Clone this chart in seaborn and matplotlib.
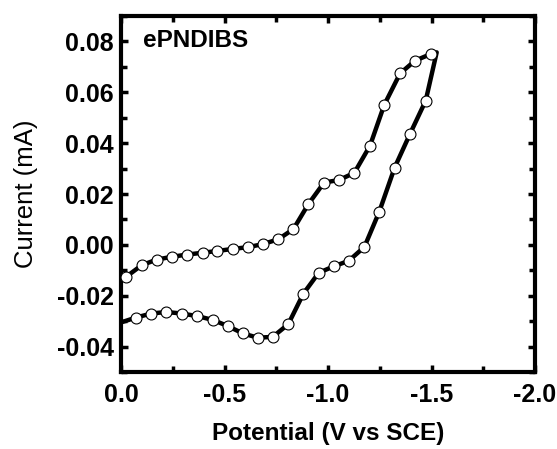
import matplotlib
matplotlib.use("Agg")
import matplotlib.pyplot as plt
import seaborn as sns
import pandas as pd
from matplotlib.ticker import MultipleLocator, FormatStrFormatter

# Cyclic voltammogram loop (V vs SCE, mA)
potential = [0.000, -0.024, -0.100, -0.172, -0.245, -0.320, -0.395, -0.465, -0.540,
             -0.614, -0.686, -0.760, -0.833, -0.905, -0.981, -1.053, -1.127, -1.203,
             -1.272, -1.348, -1.420, -1.498, -1.525,
             -1.472, -1.396, -1.322, -1.248, -1.176, -1.100, -1.029, -0.955, -0.881,
             -0.808, -0.733, -0.660, -0.588, -0.515, -0.443, -0.367, -0.293, -0.219,
             -0.146, -0.072, 0.000]
current = [-0.0135, -0.0126, -0.0080, -0.0058, -0.0047, -0.0038, -0.0031, -0.0024, -0.0016,
           -0.0009, 0.0003, 0.0022, 0.0062, 0.0160, 0.0245, 0.0255, 0.0283, 0.0390,
           0.0551, 0.0674, 0.0724, 0.0751, 0.0757,
           0.0567, 0.0436, 0.0304, 0.0131, -0.0008, -0.0063, -0.0084, -0.0110, -0.0192,
           -0.0312, -0.0362, -0.0365, -0.0348, -0.0319, -0.0295, -0.0280, -0.0270, -0.0264,
           -0.0270, -0.0286, -0.0305]
marked = [False] + [True] * 21 + [False] + [True] * 20 + [False]

sample_label = "ePNDIBS"
x_label = "Potential (V vs SCE)"
y_label = "Current (mA)"

df = pd.DataFrame({"potential": potential, "current": current, "marked": marked})

sns.set_style("ticks")
plt.rcParams["font.family"] = ["Liberation Sans", "DejaVu Sans"]
plt.rcParams["font.weight"] = "bold"
plt.rcParams["text.color"] = "black"
plt.rcParams["axes.labelcolor"] = "black"
plt.rcParams["xtick.color"] = "black"
plt.rcParams["ytick.color"] = "black"
plt.rcParams["axes.edgecolor"] = "black"

fig = plt.figure(figsize=(5.57, 4.49), dpi=100)
ax = fig.add_axes([121 / 557, 1 - 372 / 449, 414 / 557, 356 / 449])

sns.lineplot(data=df, x="potential", y="current", sort=False, estimator=None,
             color="black", linewidth=3.2, ax=ax)
sns.scatterplot(data=df[df["marked"]], x="potential", y="current", marker="o",
                s=62, facecolor="white", edgecolor="black", linewidth=0.8,
                zorder=3, ax=ax)

ax.set_xlim(0.0, -2.0)
ax.set_ylim(-0.05, 0.09)
ax.xaxis.set_major_locator(MultipleLocator(0.5))
ax.xaxis.set_minor_locator(MultipleLocator(0.25))
ax.yaxis.set_major_locator(MultipleLocator(0.02))
ax.yaxis.set_minor_locator(MultipleLocator(0.01))
ax.xaxis.set_major_formatter(FormatStrFormatter("%.1f"))
ax.yaxis.set_major_formatter(FormatStrFormatter("%.2f"))

for s in ax.spines.values():
    s.set_linewidth(3)
    s.set_visible(True)
    s.set_color("black")
ax.tick_params(which="both", direction="in", top=True, right=True, colors="black")
ax.tick_params(which="major", length=5, width=2.5, labelsize=18, pad=5)
ax.tick_params(which="minor", length=4, width=2.5)
ax.tick_params(axis="x", which="major", pad=8)
for lab in ax.get_xticklabels() + ax.get_yticklabels():
    lab.set_fontweight("bold")

ax.set_xlabel(x_label, fontsize=17.5, fontweight="bold", labelpad=11, color="black")
ax.set_ylabel(y_label, fontsize=18.5, fontweight="normal", labelpad=14, color="black")
ax.text(0.052, 0.93, sample_label, transform=ax.transAxes, fontsize=17.5,
        fontweight="bold", ha="left", va="center", color="black")

fig.savefig("out.png", dpi=100)
